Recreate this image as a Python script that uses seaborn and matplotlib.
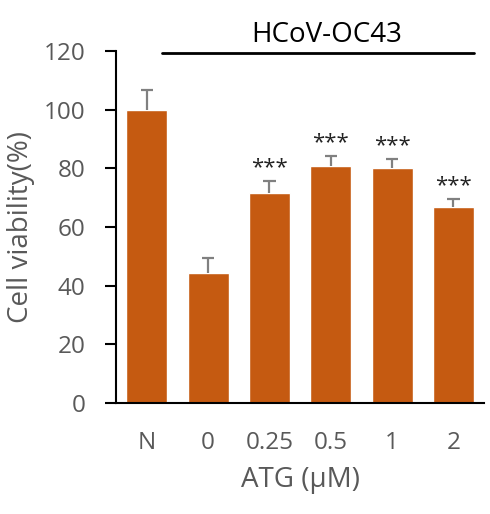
import matplotlib.pyplot as plt
import pandas as pd
import seaborn as sns
import numpy as np

# values
groups = ['N', '0', '0.25', '0.5', '1', '2']
viability = [100.0, 44.4, 71.7, 80.6, 80.1, 66.7]
sd_up = [6.5, 4.9, 4.0, 3.7, 3.1, 2.9]
signif = ['', '', '***', '***', '***', '***']

df = pd.DataFrame({'group': groups, 'value': viability})

sns.set_style('white')
plt.rcParams['font.family'] = ['Open Sans', 'DejaVu Sans']

bar_color = '#C55A11'
gray = '#595959'
err_color = '#808080'

fig = plt.figure(figsize=(4.9, 5.14), dpi=100)
ax = fig.add_axes([0.237, 0.216, 0.751, 0.685])

sns.barplot(data=df, x='group', y='value', order=groups, color=bar_color,
            saturation=1, width=0.67, errorbar=None, ax=ax)

# upper-only error bars with a cap on top
xpos = np.arange(len(groups))
tops = np.array(viability) + np.array(sd_up)
ax.vlines(xpos, viability, tops, color=err_color, lw=1.6, zorder=3)
ax.hlines(tops, xpos - 0.1, xpos + 0.1, color=err_color, lw=1.6, zorder=3)

for x, t, s in zip(xpos, tops, signif):
    if s:
        ax.annotate(s, (x, t), xytext=(0, 2), textcoords='offset points',
                    ha='center', va='bottom', fontsize=16, color='#222222')

# infection bracket
ax.plot([0.24, 5.34], [119.4, 119.4], color='black', lw=2, clip_on=False)
ax.text(2.94, 120.6, 'HCoV-OC43', ha='center', va='bottom', fontsize=20,
        color='black', clip_on=False)

ax.set_xlim(-0.5, 5.5)
ax.set_ylim(0, 120)
ax.set_yticks(np.arange(0, 121, 20))
ax.tick_params(axis='y', direction='out', length=8, width=1.5, color='black',
               labelsize=17.5, labelcolor=gray, pad=14, left=True)
ax.tick_params(axis='x', length=0, labelsize=17.5, labelcolor=gray, pad=20)

ax.set_xlabel('ATG (μM)', fontsize=20, color=gray, labelpad=8)
ax.set_ylabel('Cell viability(%)', fontsize=20, color=gray, labelpad=6)

sns.despine(ax=ax)
for sp in ['left', 'bottom']:
    ax.spines[sp].set_color('black')
    ax.spines[sp].set_linewidth(1.5)

fig.savefig('out.png', dpi=100)
